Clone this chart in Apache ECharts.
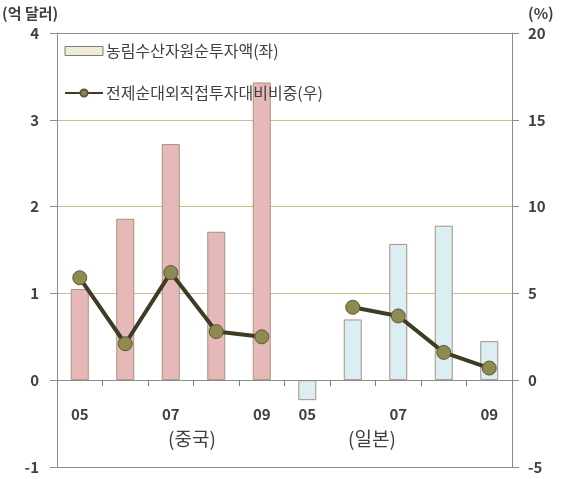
<!DOCTYPE html>
<html>
<head>
<meta charset="utf-8">
<script src="https://cdn.jsdelivr.net/npm/echarts@6/dist/echarts.min.js"></script>
<style>
  html, body { margin: 0; padding: 0; background: #ffffff; }
  #chart { width: 561px; height: 479px; }
</style>
</head>
<body>
<div id="chart"></div>
<script>
// Years for each bar: China 2005-09, then Japan 2005-09
const categories = ['05', '06', '07', '08', '09', '05', '06', '07', '08', '09'];
// Which category positions carry a year label
const labeledIdx = [0, 2, 4, 5, 7, 9];
const groupLabels = ['(중국)', '(일본)'];

// Net investment in agriculture/forestry/fisheries resources (100M USD, left axis)
const investChina = [1.05, 1.86, 2.72, 1.71, 3.43];
const investJapan = [-0.23, 0.70, 1.57, 1.78, 0.45];
// Share of total net outward FDI (%, right axis)
const shareChina = [5.9, 2.1, 6.2, 2.8, 2.5];
const shareJapan = [null, 4.2, 3.7, 1.6, 0.7];

const leftTicks = { min: -1, max: 4, interval: 1 };
const rightTicks = { min: -5, max: 20, interval: 5 };

const chinaColor = '#e6b9b8';
const japanColor = '#dbeef4';
const labelFont = { color: '#404040', fontWeight: 'bold', fontSize: 15, fontFamily: 'Noto Sans CJK KR' };

const barData = investChina.map(v => ({ value: v, itemStyle: { color: chinaColor } }))
  .concat(investJapan.map(v => ({ value: v, itemStyle: { color: japanColor } })));
const lineData = shareChina.concat(shareJapan);

// Plot box
const W = 561, H = 479;
const gridBox = { left: 57, right: 49, top: 33, bottom: 12 };
const plotH = H - gridBox.top - gridBox.bottom;
// Lift the category axis from the bottom edge up to the zero line of the left scale
const zeroLift = plotH * (0 - leftTicks.min) / (leftTicks.max - leftTicks.min);

const chart = echarts.init(document.getElementById('chart'), null, { renderer: 'canvas' });
chart.setOption({
  animation: false,
  backgroundColor: '#ffffff',
  grid: Object.assign({ containLabel: false, outerBoundsMode: 'none' }, gridBox),
  legend: {
    orient: 'vertical',
    left: 64, top: 43,
    padding: 0,
    itemGap: 26,
    itemWidth: 38, itemHeight: 9,
    textStyle: { color: '#404040', fontSize: 16, fontFamily: 'Noto Sans CJK KR', padding: [0, 0, 0, -2] },
    data: [
      { name: '농림수산자원순투자액(좌)', icon: 'rect', itemStyle: { color: '#efedd6', borderColor: '#7a7a7a', borderWidth: 1 } },
      { name: '전제순대외직접투자대비비중(우)' }
    ]
  },
  xAxis: {
    type: 'category',
    data: categories,
    position: 'bottom',
    offset: -zeroLift,
    boundaryGap: true,
    axisLine: { show: true, onZero: false, lineStyle: { color: '#8c8c8c', width: 1 } },
    axisTick: { show: true, inside: false, length: 6, alignWithLabel: false, interval: 0, lineStyle: { color: '#808080', width: 1 } },
    axisLabel: Object.assign({
      interval: 0,
      margin: 27,
      formatter: (val, idx) => labeledIdx.includes(idx) ? val : ''
    }, labelFont),
    splitLine: { show: false },
    z: 10
  },
  yAxis: [
    {
      type: 'value',
      min: leftTicks.min, max: leftTicks.max, interval: leftTicks.interval,
      axisLine: { show: true, lineStyle: { color: '#8c8c8c' } },
      axisTick: { show: true, length: 7, lineStyle: { color: '#8c8c8c' } },
      axisLabel: Object.assign({ margin: 18 }, labelFont),
      splitLine: {
        show: true,
        lineStyle: { color: ['#8c8c8c', '#8c8c8c', '#cbbf8f', '#cbbf8f', '#cbbf8f', '#8c8c8c'], width: 1.2 }
      }
    },
    {
      type: 'value',
      min: rightTicks.min, max: rightTicks.max, interval: rightTicks.interval,
      position: 'right',
      axisLine: { show: true, lineStyle: { color: '#8c8c8c' } },
      axisTick: { show: true, length: 7, lineStyle: { color: '#8c8c8c' } },
      axisLabel: Object.assign({ margin: 16 }, labelFont),
      splitLine: { show: false }
    }
  ],
  series: [
    {
      name: '농림수산자원순투자액(좌)',
      type: 'bar',
      yAxisIndex: 0,
      barWidth: 18,
      data: barData,
      itemStyle: { color: '#efedd6', borderColor: '#a8917a', borderWidth: 1 }
    },
    {
      name: '전제순대외직접투자대비비중(우)',
      type: 'line',
      yAxisIndex: 1,
      data: lineData,
      connectNulls: false,
      symbol: 'circle',
      symbolSize: 14,
      lineStyle: { color: '#3e3c24', width: 4 },
      itemStyle: { color: '#8d8a52', borderColor: '#5c5833', borderWidth: 1 },
      z: 5
    }
  ],
  graphic: [
    { type: 'text', left: 2, top: 6, style: { text: '(억 달러)', fill: '#404040', font: 'bold 15px "Noto Sans CJK KR"' } },
    { type: 'text', left: 528, top: 6, style: { text: '(%)', fill: '#404040', font: 'bold 15px "Noto Sans CJK KR"' } },
    { type: 'text', left: 168, top: 429, style: { text: groupLabels[0], fill: '#404040', font: '19px "Noto Sans CJK KR"' } },
    { type: 'text', left: 348, top: 429, style: { text: groupLabels[1], fill: '#404040', font: '19px "Noto Sans CJK KR"' } }
  ]
});
</script>
</body>
</html>
